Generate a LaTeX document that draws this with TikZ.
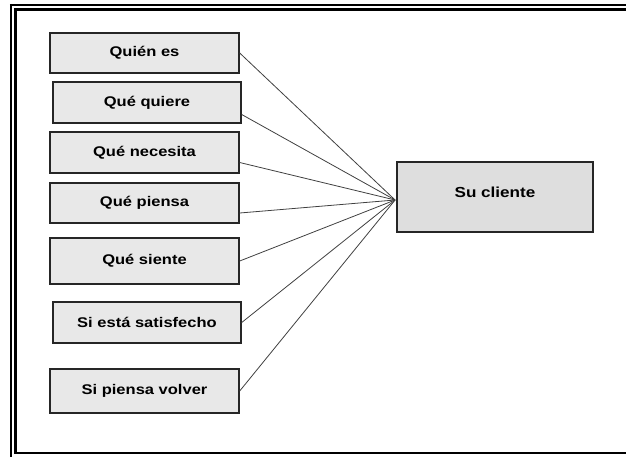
\documentclass[tikz,border=0pt]{standalone}
\usepackage{fontspec}
\setmainfont{Liberation Sans}[FakeStretch=1.18]
\usetikzlibrary{calc}

\tikzset{
  topic/.style={draw=black!85, line width=1.4pt, fill=black!9, minimum height=40pt,
    inner sep=0pt, font=\fontsize{14}{16}\selectfont\bfseries},
  target/.style={draw=black!85, line width=1.8pt, fill=black!13, inner sep=0pt,
    minimum width=196pt, minimum height=70pt, text height=10pt, text depth=10pt,
    font=\fontsize{14.5}{16}\selectfont\bfseries},
  link/.style={draw=black!75, line width=0.8pt},
  rule/.style={line width=2.2pt}
}

\begin{document}
\begin{tikzpicture}[x=1pt, y=-1pt]
  \useasboundingbox (0,0) rectangle (626,456);

  % page frame: double rule on top and left, single rule at the bottom
  \draw[rule] (9.9,5) -- (630,5);
  \draw[rule] (11,3.9) -- (11,460);
  \draw[rule] (14.4,9.5) -- (630,9.5);
  \draw[rule] (15.5,8.4) -- (15.5,453) -- (630,453);

  % aspects of the customer
  \node[topic, minimum width=189pt]               (q1) at (144.5,53)    {Quién es};
  \node[topic, minimum width=188pt, minimum height=41pt] (q2) at (147,102.5)   {Qué quiere};
  \node[topic, minimum width=189pt, minimum height=41pt] (q3) at (144.5,152.5) {Qué necesita};
  \node[topic, minimum width=189pt]               (q4) at (144.5,203)   {Qué piensa};
  \node[topic, minimum width=189pt, minimum height=46pt] (q5) at (144.5,261)   {Qué siente};
  \node[topic, minimum width=188pt, minimum height=41pt] (q6) at (147,322.5)   {Si está satisfecho};
  \node[topic, minimum width=189pt, minimum height=44pt] (q7) at (144.5,391)   {Si piensa volver};

  % the customer
  \node[target] (su) at (495,197) {Su cliente};
  \coordinate (hub) at ($(su.west)+(-1,3)$);

  % connectors
  \draw[link] (q1.east) -- (hub);
  \draw[link] ($(q2.east)+(0,12)$) -- (hub);
  \draw[link] ($(q3.east)+(0,10)$) -- (hub);
  \draw[link] ($(q4.east)+(0,10)$) -- (hub);
  \draw[link] (q5.east) -- (hub);
  \draw[link] (q6.east) -- (hub);
  \draw[link] (q7.east) -- (hub);
\end{tikzpicture}
\end{document}
